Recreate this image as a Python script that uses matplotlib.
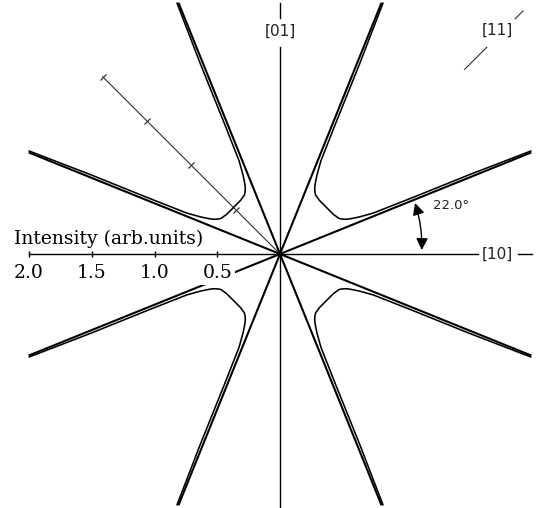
import numpy as np
import matplotlib
matplotlib.use('Agg')
import matplotlib.pyplot as plt
from matplotlib.markers import MarkerStyle
from matplotlib.transforms import Affine2D
from matplotlib.patches import ArrowStyle

# ---------------- data ----------------
branch_angles_deg = [22, 68, 112, 158, 202, 248, 292, 338]
branch_length = 2.16
sector_starts_deg = [22, 112, 202, 292]
sector_width_deg = 46
# half-branch of the intensity curve: angular offset from the sector edge (deg) and intensity
curve_offset_deg = [0.32, 0.72, 1.08, 1.7, 3.0, 4.3, 5.5, 7.4, 9.2, 11.3, 14.0, 18.0, 23.0]
curve_intensity = [2.16, 1.64, 1.125, 0.811, 0.70, 0.638, 0.599, 0.567, 0.548, 0.541, 0.531, 0.526, 0.524]
intensity_ticks = [0.5, 1.0, 1.5, 2.0]
intensity_tick_labels = ['0.5', '1.0', '1.5', '2.0']
diag_ticks = [0.5, 1.0, 1.5, 2.0]
angle_value = 22.0
angle_label = '22.0°'
intensity_label = 'Intensity (arb.units)'

# ---------------- figure ----------------
W, H = 546, 508
cx, cy = 280, 254
R = 251.0
fig = plt.figure(figsize=(W / 100, H / 100), dpi=100)
ax = fig.add_axes([(cx - R) / W, (H - cy - R) / H, 2 * R / W, 2 * R / H], projection='polar')
ax.set_autoscale_on(False)
ax.set_ylim(0, 2.0)
ax.axis('off')

serif = 'DejaVu Serif'
sans = 'DejaVu Sans'
d2r = np.deg2rad

# sector boundary lines
for a in branch_angles_deg:
    ax.plot([d2r(a)] * 2, [0, branch_length], color='black', lw=1.5,
            clip_on=False, solid_capstyle='butt', zorder=2)

# intensity curves
off = np.array(curve_offset_deg)
ri = np.array(curve_intensity)
for s in sector_starts_deg:
    th = np.concatenate([s + off, (s + sector_width_deg - off[:-1])[::-1]])
    rr = np.concatenate([ri, ri[:-1][::-1]])
    ax.plot(d2r(th), rr, color='black', lw=1.15, clip_on=False, zorder=2,
            solid_joinstyle='round')

# intensity axis (left)
ax.plot([np.pi, np.pi], [0, 2.0], color='black', lw=1.0, clip_on=False, zorder=1)
ax.plot([np.pi] * len(intensity_ticks), intensity_ticks, ls='none', marker='|',
        ms=4.5, mew=1.0, color='black', clip_on=False)
for t, lab in zip(intensity_ticks, intensity_tick_labels):
    ax.annotate(lab, xy=(np.pi, t), xytext=(0, -17.3), textcoords='offset points',
                ha='center', va='baseline', fontsize=13.5, family=serif,
                annotation_clip=False, zorder=4,
                bbox=dict(boxstyle='square,pad=0.15', fc='white', ec='none'))
ax.annotate(intensity_label, xy=(np.pi, 2.0), xytext=(-11, 7.2), textcoords='offset points',
            ha='left', va='baseline', fontsize=13.5, family=serif, annotation_clip=False)

# diagonal intensity axis (upper left)
ax.plot([d2r(135)] * 2, [0, 2.0], color='#333333', lw=0.8, clip_on=False, zorder=1)
tick_marker = MarkerStyle('|', transform=Affine2D().rotate_deg(-45))
ax.plot([d2r(135)] * len(diag_ticks), diag_ticks, ls='none', marker=tick_marker,
        ms=5.5, mew=0.9, color='#333333', clip_on=False)

# crystal axes
ax.plot([0, 0], [0, 1.58], color='black', lw=1.0, clip_on=False, zorder=1)
ax.plot([0, 0], [1.896, 2.008], color='black', lw=1.0, clip_on=False, zorder=1)
ax.text(0, 1.73, '[10]', ha='center', va='center', fontsize=11, family=sans, color='#222222')

ax.plot([d2r(90)] * 2, [0, 1.649], color='black', lw=1.0, clip_on=False, zorder=1)
ax.plot([d2r(90)] * 2, [1.878, 2.0], color='black', lw=1.0, clip_on=False, zorder=1)
ax.plot([d2r(270)] * 2, [0, 2.06], color='black', lw=1.0, clip_on=False, zorder=1)
ax.text(d2r(90), 1.777, '[01]', ha='center', va='center', fontsize=11, family=sans, color='#222222')

ax.plot([d2r(45)] * 2, [2.08, 2.33], color='#333333', lw=0.8, clip_on=False)
ax.plot([d2r(45)] * 2, [2.65, 2.74], color='#333333', lw=0.8, clip_on=False)
ax.text(d2r(45.8), 2.485, '[11]', ha='center', va='center', fontsize=11, family=sans, color='#222222')

# angle annotation
ax.annotate('', xy=(d2r(1.6), 1.13), xytext=(d2r(angle_value - 1.3), 1.15),
            arrowprops=dict(arrowstyle=ArrowStyle('<|-|>', head_length=0.7, head_width=0.35),
                            mutation_scale=10, lw=1.0, color='black', shrinkA=0, shrinkB=0,
                            connectionstyle='arc3,rad=-0.085'),
            annotation_clip=False)
ax.text(d2r(15.9), 1.42, angle_label, ha='center', va='center', fontsize=9.5,
        family=sans, color='#222222')

fig.savefig('out.png', dpi=100, facecolor='white')
